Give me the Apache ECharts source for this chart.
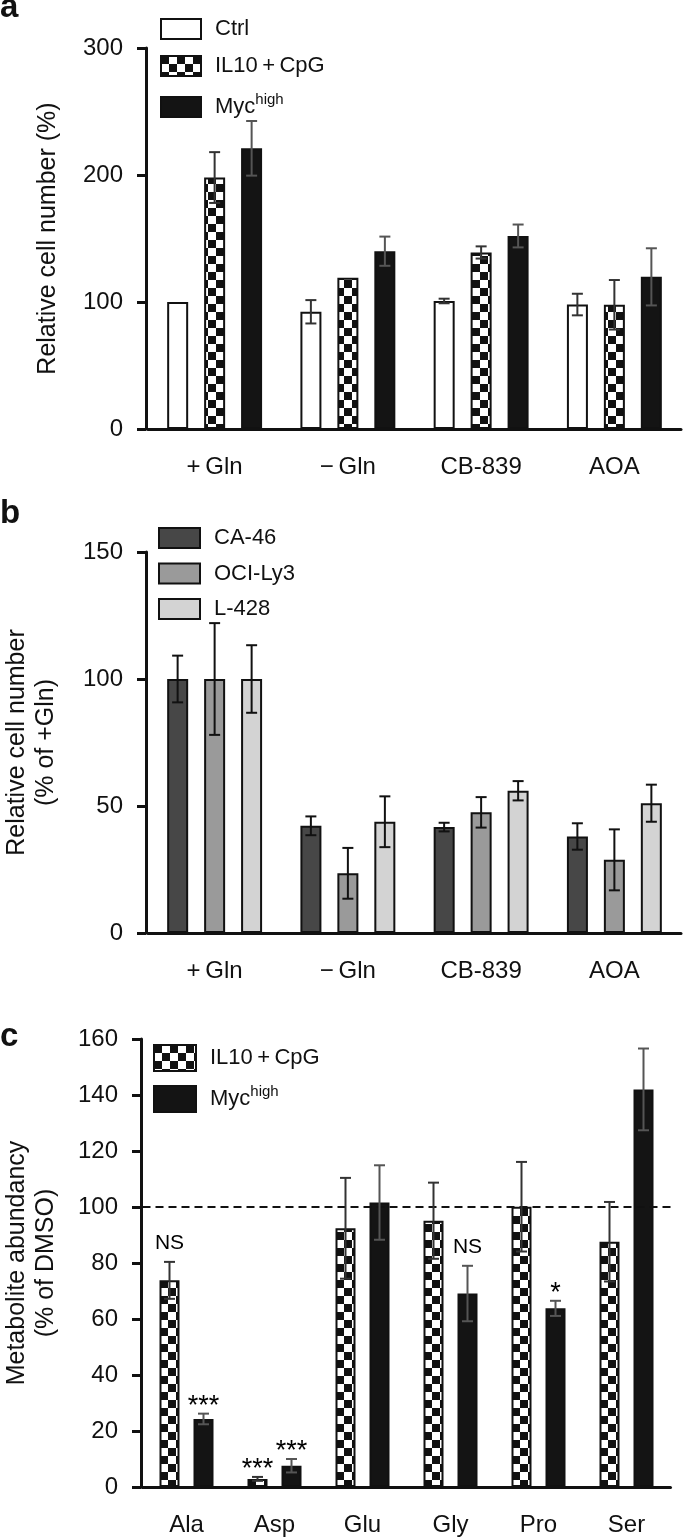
<!DOCTYPE html>
<html><head><meta charset="utf-8">
<script src="https://cdn.jsdelivr.net/npm/echarts@6/dist/echarts.min.js"></script>
<style>html,body{margin:0;padding:0;background:#fff}#c{width:685px;height:1540px}</style>
</head><body><div id="c"></div>
<script>
// ---------- Panel a ----------
const catA = ['+\u2009Gln', '\u2212\u2009Gln', 'CB-839', 'AOA'];
const ctrlA = [100, 92.3, 100.8, 98];
const ctrlErrA = [0, 9.2, 1.8, 8.5];
const il10A = [198, 119, 139, 97.8];
const il10ErrA = [20, 0, 4.8, 19.5];
const mycA = [221, 140, 152, 119.8];
const mycErrA = [21.5, 11.5, 9, 22.5];
const yTicksA = [0, 300, 100];
// ---------- Panel b ----------
const catB = ['+\u2009Gln', '\u2212\u2009Gln', 'CB-839', 'AOA'];
const ca46B = [100, 42.2, 41.7, 38];
const ca46ErrB = [9.2, 3.7, 1.7, 5.2];
const ociB = [100, 23.5, 47.5, 28.8];
const ociErrB = [22, 10, 6, 12];
const l428B = [100, 43.8, 56, 51.1];
const l428ErrB = [13.3, 10, 3.8, 7.3];
const yTicksB = [0, 150, 50];
// ---------- Panel c ----------
const catC = ['Ala', 'Asp', 'Glu', 'Gly', 'Pro', 'Ser'];
const il10C = [73.8, 2.9, 92.4, 95.1, 100.1, 87.6];
const il10ErrC = [6.6, 0.7, 18, 13.6, 16, 14.2];
const mycC = [24.3, 7.6, 101.6, 69.1, 63.8, 142];
const mycErrC = [1.9, 2.4, 13.3, 9.9, 2.7, 14.6];
const sigIl10C = ['NS', '***', '', '', '', ''];
const sigMycC = ['***', '***', '', 'NS', '*', ''];
const refLineC = 100;
const yTicksC = [0, 160, 20];

const F = '"Liberation Sans", Arial, Helvetica, sans-serif';
const INK = '#111';

function checker(s) {
  const c = document.createElement('canvas');
  c.width = c.height = s * 2;
  const g = c.getContext('2d');
  g.fillStyle = '#fff'; g.fillRect(0, 0, s * 2, s * 2);
  g.fillStyle = '#111'; g.fillRect(0, 0, s, s); g.fillRect(s, s, s, s);
  return c;
}
const CHECK = { image: checker(8), repeat: 'repeat' };

function xAx(grid, cats) {
  return {
    type: 'category', gridIndex: grid, data: cats,
    axisLine: { lineStyle: { color: INK, width: 3 } },
    axisTick: { alignWithLabel: true, length: 10, lineStyle: { width: 3, color: INK } },
    axisLabel: { fontSize: 24, color: INK, margin: 26, fontFamily: F }
  };
}
function yAx(grid, t, offset) {
  return {
    type: 'value', gridIndex: grid, min: t[0], max: t[1], interval: t[2], offset: offset,
    axisLine: { show: true, lineStyle: { color: INK, width: 3 } },
    axisTick: { show: true, length: 9, lineStyle: { width: 3, color: INK } },
    axisLabel: { fontSize: 24, color: INK, margin: 23, fontFamily: F },
    splitLine: { show: false }
  };
}
function bar(grid, name, data, fill, barW, gapPct, extra) {
  return Object.assign({
    type: 'bar', name: name, xAxisIndex: grid, yAxisIndex: grid, data: data,
    barWidth: barW, barGap: gapPct,
    itemStyle: { color: fill, borderColor: INK, borderWidth: 2 },
    emphasis: { disabled: true }, animation: false
  }, extra || {});
}
function offsetOf(idx, n, barW, gapPx) {
  const total = n * barW + (n - 1) * gapPx;
  return -total / 2 + barW / 2 + idx * (barW + gapPx);
}
function errSeries(grid, means, errs, idx, n, barW, gapPx, color, capW) {
  const off = offsetOf(idx, n, barW, gapPx);
  return {
    type: 'custom', xAxisIndex: grid, yAxisIndex: grid, z: 10, silent: true, animation: false,
    data: means.map((m, i) => [i, m, errs[i]]),
    renderItem: function (params, api) {
      const i = api.value(0), m = api.value(1), e = api.value(2);
      if (!e) return null;
      const top = api.coord([i, m + e]);
      const bot = api.coord([i, m - e]);
      const x = top[0] + off;
      const st = { stroke: color, lineWidth: 2 };
      return {
        type: 'group', children: [
          { type: 'line', shape: { x1: x, y1: top[1], x2: x, y2: bot[1] }, style: st },
          { type: 'line', shape: { x1: x - capW / 2, y1: top[1], x2: x + capW / 2, y2: top[1] }, style: st },
          { type: 'line', shape: { x1: x - capW / 2, y1: bot[1], x2: x + capW / 2, y2: bot[1] }, style: st }
        ]
      };
    }
  };
}
function sigSeries(grid, means, errs, texts, idx, n, barW, gapPx) {
  const off = offsetOf(idx, n, barW, gapPx);
  return {
    type: 'custom', xAxisIndex: grid, yAxisIndex: grid, z: 11, silent: true, animation: false,
    data: means.map((m, i) => [i, m + errs[i]]),
    renderItem: function (params, api) {
      const t = texts[params.dataIndex];
      if (!t) return null;
      const p = api.coord([api.value(0), api.value(1)]);
      const ns = t === 'NS';
      return {
        type: 'text', x: p[0] + off, y: p[1] - (ns ? 8 : -6),
        style: { text: t, fontSize: ns ? 21 : 27, fill: '#000', fontFamily: F,
          align: 'center', verticalAlign: 'bottom' }
      };
    }
  };
}

const legendText = {
  fontSize: 22, color: INK, fontFamily: F,
  rich: {
    t: { fontSize: 22, color: INK, fontFamily: F, padding: [0, 0, 0, 9] },
    s: { fontSize: 15, color: INK, fontFamily: F, padding: [0, 0, 15, 0] }
  }
};
function legFmt(name) {
  if (name === 'Mychigh') return '{t|Myc}{s|high}';
  return '{t|' + name + '}';
}

const IL = 'IL10\u2009+\u2009CpG';

const option = {
  backgroundColor: '#fff',
  animation: false,
  grid: [
    { left: 148, width: 533, top: 48, height: 381 },
    { left: 148, width: 533, top: 552, height: 381 },
    { left: 142.5, width: 528, top: 1039, height: 448 }
  ],
  xAxis: [xAx(0, catA), xAx(1, catB), xAx(2, catC)],
  yAxis: [yAx(0, yTicksA, 2), yAx(1, yTicksB, 2), yAx(2, yTicksC, 1.5)],
  legend: [
    { left: 155, top: 13, orient: 'vertical', itemWidth: 40, itemHeight: 20, itemGap: 15, icon: 'rect',
      data: ['Ctrl', IL, 'Mychigh'], formatter: legFmt, textStyle: legendText, selectedMode: false },
    { left: 153, top: 522, orient: 'vertical', itemWidth: 41, itemHeight: 20, itemGap: 13.5, icon: 'rect',
      data: ['CA-46', 'OCI-Ly3', 'L-428'], formatter: legFmt, textStyle: legendText, selectedMode: false },
    { left: 148, top: 1039, orient: 'vertical', itemWidth: 42, itemHeight: 26, itemGap: 12, icon: 'rect',
      data: [IL + ' ', 'Mychigh '], formatter: function (n) { return legFmt(n.trim()); }, textStyle: legendText, selectedMode: false }
  ],
  graphic: [
    { type: 'text', left: 0, top: -9, style: { text: 'a', fontSize: 33, fontWeight: 'bold', fill: INK, fontFamily: F } },
    { type: 'text', left: 0, top: 497, style: { text: 'b', fontSize: 33, fontWeight: 'bold', fill: INK, fontFamily: F } },
    { type: 'text', x: 48, y: 238.5, rotation: Math.PI / 2,
      style: { text: 'Relative cell number (%)', fontSize: 25, fill: INK, fontFamily: F, align: 'center', verticalAlign: 'middle' } },
    { type: 'text', x: 32, y: 742.5, rotation: Math.PI / 2,
      style: { text: 'Relative cell number\n(% of +Gln)', fontSize: 25, lineHeight: 29, fill: INK, fontFamily: F, align: 'center', verticalAlign: 'middle' } },
    { type: 'text', left: 0, top: 1020, style: { text: 'c', fontSize: 33, fontWeight: 'bold', fill: INK, fontFamily: F } },
    { type: 'text', x: 32, y: 1263, rotation: Math.PI / 2,
      style: { text: 'Metabolite abundancy\n(% of DMSO)', fontSize: 25, lineHeight: 29, fill: INK, fontFamily: F, align: 'center', verticalAlign: 'middle' } }
  ],
  series: [
    // panel a
    bar(0, 'Ctrl', ctrlA, '#fff', 21, '76%'),
    bar(0, IL, il10A, CHECK, 21, '76%'),
    bar(0, 'Mychigh', mycA, '#141414', 21, '76%'),
    errSeries(0, ctrlA, ctrlErrA, 0, 3, 21, 16, '#333', 11),
    errSeries(0, il10A, il10ErrA, 1, 3, 21, 16, '#333', 11),
    errSeries(0, mycA, mycErrA, 2, 3, 21, 16, '#555', 11),
    // panel b
    bar(1, 'CA-46', ca46B, '#474747', 21, '76%'),
    bar(1, 'OCI-Ly3', ociB, '#9a9a9a', 21, '76%'),
    bar(1, 'L-428', l428B, '#d3d3d3', 21, '76%'),
    errSeries(1, ca46B, ca46ErrB, 0, 3, 21, 16, INK, 11),
    errSeries(1, ociB, ociErrB, 1, 3, 21, 16, INK, 11),
    errSeries(1, l428B, l428ErrB, 2, 3, 21, 16, INK, 11),
    // panel c
    bar(2, IL + ' ', il10C, CHECK, 20, '70%', {
      markLine: { silent: true, symbol: 'none', animation: false, label: { show: false },
        lineStyle: { color: INK, width: 2, type: [8, 5] }, data: [{ yAxis: refLineC }] }
    }),
    bar(2, 'Mychigh ', mycC, '#141414', 20, '70%'),
    errSeries(2, il10C, il10ErrC, 0, 2, 20, 14, '#333', 11),
    errSeries(2, mycC, mycErrC, 1, 2, 20, 14, '#555', 11),
    sigSeries(2, il10C, il10ErrC, sigIl10C, 0, 2, 20, 14),
    sigSeries(2, mycC, mycErrC, sigMycC, 1, 2, 20, 14)
  ]
};
const chart = echarts.init(document.getElementById('c'), null, { renderer: 'canvas' });
chart.setOption(option);
</script>
</body></html>
